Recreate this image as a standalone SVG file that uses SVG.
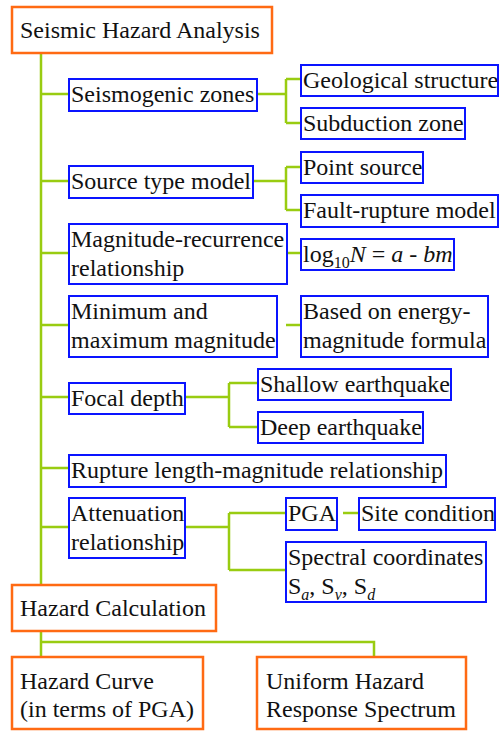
<svg xmlns="http://www.w3.org/2000/svg" width="500" height="731" viewBox="0 0 500 731" font-family="Liberation Serif, Times New Roman, DejaVu Serif, serif">
<style>
text{font-family:"Liberation Serif","Times New Roman","DejaVu Serif",serif;font-size:24px;fill:#111}
.o{fill:#fff;stroke:#ff6a13;stroke-width:2.5}
.b{fill:#fff;stroke:#0a14ff;stroke-width:2}
.c path{fill:none;stroke:#99cc11;stroke-width:2.5}
.i{font-style:italic}
</style>
<rect width="500" height="731" fill="#fff"/>
<g class="c" id="connectors">
<path d="M41 53V585"/>
<path d="M41 94H69M41 181H69M41 253H69M41 325H69M41 397H69M41 468H69M41 527H69"/>
<path d="M257 94H286M286 79V123M286 79H301M286 123H301"/>
<path d="M253 181H286M286 167V210M286 167H301M286 210H301"/>
<path d="M287 253H301"/>
<path d="M286 325H301"/>
<path d="M185 397H229M229 383V427M229 383H258M229 427H258"/>
<path d="M185 527H229M229 513V570M229 513H286M229 570H286"/>
<path d="M343 513H359"/>
<path d="M41 631V657M41 642H374V657"/>
</g>
<g id="n-sha"><rect class="o" x="12" y="7" width="260" height="46"/><text x="20" y="38">Seismic Hazard Analysis</text></g>
<g id="n-sz"><rect class="b" x="69" y="79" width="188" height="32"/><text x="71" y="102">Seismogenic zones</text></g>
<g id="n-geo"><rect class="b" x="301" y="65" width="197" height="31"/><text x="303" y="88">Geological structure</text></g>
<g id="n-sub"><rect class="b" x="301" y="108" width="164" height="31"/><text x="303" y="131">Subduction zone</text></g>
<g id="n-stm"><rect class="b" x="69" y="166" width="184" height="32"/><text x="71" y="189">Source type model</text></g>
<g id="n-ps"><rect class="b" x="301" y="152" width="122" height="31"/><text x="303" y="175">Point source</text></g>
<g id="n-frm"><rect class="b" x="301" y="195" width="197" height="32"/><text x="303" y="218">Fault-rupture model</text></g>
<g id="n-mr"><rect class="b" x="69" y="224" width="218" height="60"/><text x="71" y="247">Magnitude-recurrence</text><text x="71" y="276">relationship</text></g>
<g id="n-log"><rect class="b" x="301" y="239" width="153" height="31"/><text x="303" y="262">log<tspan font-size="16" dy="6">10</tspan><tspan class="i" dy="-6">N</tspan> = <tspan class="i">a</tspan> - <tspan class="i">bm</tspan></text></g>
<g id="n-mm"><rect class="b" x="69" y="296" width="208" height="61"/><text x="71" y="319">Minimum and</text><text x="71" y="348">maximum magnitude</text></g>
<g id="n-be"><rect class="b" x="301" y="296" width="187" height="61"/><text x="303" y="319">Based on energy-</text><text x="303" y="348">magnitude formula</text></g>
<g id="n-fd"><rect class="b" x="69" y="383" width="116" height="31"/><text x="71" y="406">Focal depth</text></g>
<g id="n-sh"><rect class="b" x="258" y="369" width="193" height="31"/><text x="260" y="392">Shallow earthquake</text></g>
<g id="n-de"><rect class="b" x="258" y="412" width="165" height="31"/><text x="260" y="435">Deep earthquake</text></g>
<g id="n-rl"><rect class="b" x="69" y="455" width="377" height="32"/><text x="71" y="478">Rupture length-magnitude relationship</text></g>
<g id="n-at"><rect class="b" x="69" y="498" width="116" height="60"/><text x="71" y="521">Attenuation</text><text x="71" y="550">relationship</text></g>
<g id="n-pga"><rect class="b" x="286" y="498" width="51" height="32"/><text x="288" y="521">PGA</text></g>
<g id="n-site"><rect class="b" x="359" y="498" width="136" height="32"/><text x="361" y="521">Site condition</text></g>
<g id="n-sc"><rect class="b" x="286" y="542" width="200" height="60"/><text x="288" y="565">Spectral coordinates</text><text x="288" y="594">S<tspan class="i" font-size="16" dy="6">a</tspan><tspan dy="-6">, S</tspan><tspan class="i" font-size="16" dy="6">v</tspan><tspan dy="-6">, S</tspan><tspan class="i" font-size="16" dy="6">d</tspan></text></g>
<g id="n-hc"><rect class="o" x="12" y="585" width="204" height="46"/><text x="20" y="616">Hazard Calculation</text></g>
<g id="n-curve"><rect class="o" x="12" y="657" width="191" height="72"/><text x="20" y="689">Hazard Curve</text><text x="20" y="717">(in terms of PGA)</text></g>
<g id="n-uhs"><rect class="o" x="257" y="657" width="209" height="72"/><text x="266" y="689">Uniform Hazard</text><text x="266" y="717">Response Spectrum</text></g>
</svg>
